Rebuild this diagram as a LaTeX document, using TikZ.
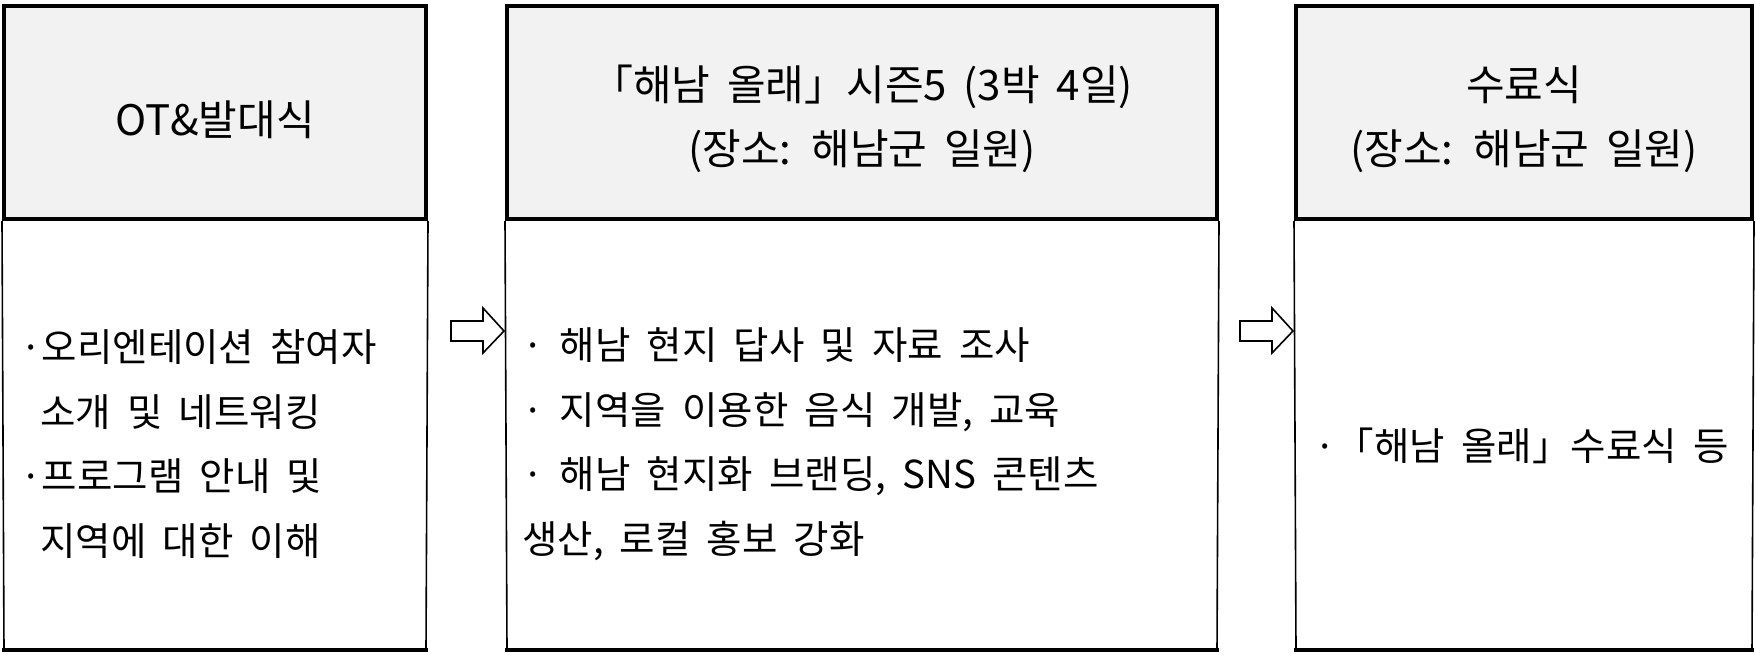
\documentclass[tikz,border=0pt]{standalone}
\usepackage{fontspec}
\setmainfont{Noto Sans CJK KR}
\usetikzlibrary{calc}
\newcommand{\headfont}{\fontsize{42pt}{64pt}\selectfont\spaceskip=0.4em\relax}
\newcommand{\bodyfont}{\fontsize{38.5pt}{64.5pt}\selectfont\spaceskip=0.42em\relax}
\begin{document}
\begin{tikzpicture}[x=1pt,y=-1pt,
  headbox/.style={draw=black,line width=4pt,fill=headgray,inner sep=0pt},
  sideline/.style={draw=black,line width=1.6pt},
  bottomline/.style={draw=black,line width=4pt},
  headtext/.style={font=\headfont,align=center,inner sep=0pt},
  bodytext/.style={font=\bodyfont,align=left,inner sep=0pt,anchor=west},
  blockarrow/.style={draw=black,line width=1.6pt,fill=white,line join=miter}
]
\definecolor{headgray}{HTML}{F2F2F2}
\useasboundingbox (0,0) rectangle (1756,655);
% lower box lines
\coordinate (l1bl) at (4,650);
\coordinate (l1br) at (426,650);
\coordinate (l2bl) at (507,650);
\coordinate (l2br) at (1217,650);
\coordinate (l3bl) at (1296,650);
\coordinate (l3br) at (1752,650);
% header boxes
\node[headbox,minimum width=422pt,minimum height=213pt] (h1) at (215,112.5) {};
\node[headbox,minimum width=710pt,minimum height=213pt] (h2) at (862,112.5) {};
\node[headbox,minimum width=456pt,minimum height=213pt] (h3) at (1524,112.5) {};
\draw[sideline] (h1.south west) -- (l1bl);
\draw[sideline] (h1.south east) -- (l1br);
\draw[sideline] (h2.south west) -- (l2bl);
\draw[sideline] (h2.south east) -- (l2br);
\draw[sideline] (h3.south west) -- (l3bl);
\draw[sideline] (h3.south east) -- (l3br);
\draw[bottomline,line cap=rect] (l1bl) -- (l1br);
\draw[bottomline,line cap=rect] (l2bl) -- (l2br);
\draw[bottomline,line cap=rect] (l3bl) -- (l3br);
% header texts
\node[headtext] (h1t) at (215,120) {OT\&발대식};
\node[headtext] (h2t) at (862,119) {「해남 올래」시즌5 (3박 4일)\\(장소: 해남군 일원)};
\node[headtext] (h3t) at (1524,119) {수료식\\(장소: 해남군 일원)};
% body texts
\node[bodytext] (b1) at (20,444) {·오리엔테이션 참여자\\\hspace*{20pt}소개 및 네트워킹\\·프로그램 안내 및\\\hspace*{20pt}지역에 대한 이해};
\node[bodytext] (b2) at (522,444) {· 해남 현지 답사 및 자료 조사\\· 지역을 이용한 음식 개발, 교육\\· 해남 현지화 브랜딩, SNS 콘텐츠\\생산, 로컬 홍보 강화};
\node[bodytext] (b3) at (1314,446) {·「해남 올래」수료식 등};
% arrows
\coordinate (t1) at (h2.west |- 0,331);
\coordinate (t2) at (h3.west |- 0,331);
\foreach \t in {t1,t2}{
  \draw[blockarrow] ($(\t)+(-54,-10)$) -- ($(\t)+(-22,-10)$) -- ($(\t)+(-22,-23)$) -- ($(\t)+(-1,0)$)
    -- ($(\t)+(-22,22)$) -- ($(\t)+(-22,10)$) -- ($(\t)+(-54,10)$) -- cycle;
}
\end{tikzpicture}
\end{document}
